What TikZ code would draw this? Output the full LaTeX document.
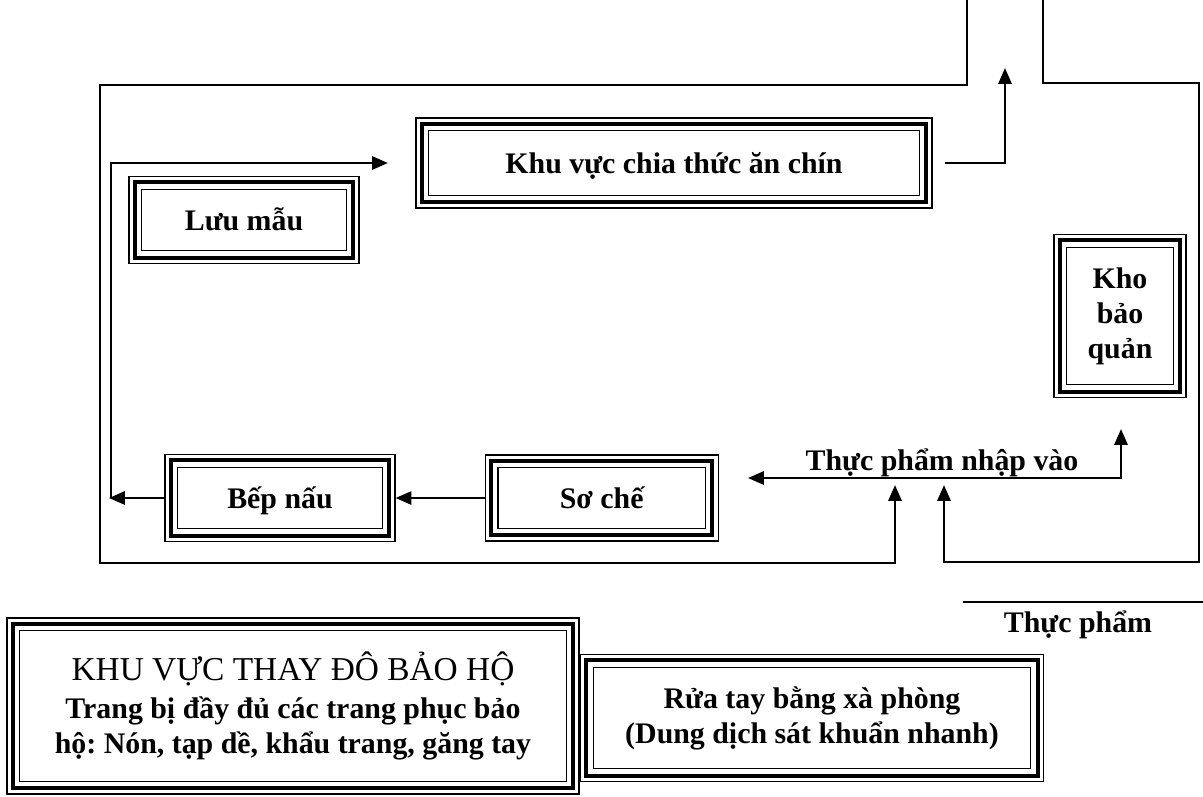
\documentclass[tikz,border=0pt]{standalone}
\usepackage{fontspec}
\setmainfont{Liberation Serif}
\frenchspacing
\usetikzlibrary{arrows.meta,positioning}

\tikzstyle{area} = [rectangle, draw=black, line width=0.7pt, text centered, align=center, inner sep=0pt, font=\bfseries\fontsize{17}{20}\selectfont]
\tikzstyle{tag} = [inner sep=0pt, font=\bfseries\fontsize{17}{20}\selectfont]
\tikzstyle{wall} = [line width=1.3pt]
\tikzstyle{arrow} = [line width=1.3pt,-{Triangle[length=9pt,width=7.5pt]}]
\tikzstyle{twoway} = [line width=1.3pt,{Triangle[length=9pt,width=7.5pt]}-{Triangle[length=9pt,width=7.5pt]}]

\begin{document}
\begin{tikzpicture}[x=0.02cm, y=-0.02cm, node distance=1.8cm]
	\useasboundingbox (0,0) rectangle (1203,796);
	% Place nodes
	\node [area, minimum width=10.32cm, minimum height=1.8cm] (khuvuc) at (674,163) {Khu vực chia thức ăn chín\vphantom{Ếg}};
	\node [area, minimum width=4.6cm, minimum height=1.74cm] (luumau) at (244,220) {Lưu mẫu\vphantom{Ếg}};
	\node [area, minimum width=2.64cm, minimum height=3.26cm] (kho) at (1120,316) {Kho\\bảo\\quản};
	\node [area, minimum width=4.6cm, minimum height=1.74cm] (bepnau) at (280,498) {Bếp nấu\vphantom{Ếg}};
	\node [area, minimum width=4.66cm, minimum height=1.72cm, right=1.78cm of bepnau] (soche) {Sơ chế\vphantom{Ếg}};
	\node [area, minimum width=11.44cm, minimum height=3.52cm] (thaydo) at (293,706) {{\mdseries\fontsize{19}{22}\selectfont KHU VỰC THAY ĐÔ BẢO HỘ}\\[1.5pt]Trang bị đầy đủ các trang phục bảo\\hộ: Nón, tạp dề, khẩu trang, găng tay};
	\node [area, minimum width=9.26cm, minimum height=2.54cm] (ruatay) at (812,718) {Rửa tay bằng xà phòng\\(Dung dịch sát khuẩn nhanh)};
	\node [tag, anchor=base] (nhapvao) at (942,470) {Thực phẩm nhập vào};
	\node [tag, anchor=base] (thucpham) at (1078,632) {Thực phẩm};
	% Inner frames
	\foreach \n in {khuvuc,luumau,kho,bepnau,soche,thaydo,ruatay} {
		\draw [line width=2.3pt] ([shift={(3.6pt,3.6pt)}]\n.south west) rectangle ([shift={(-3.6pt,-3.6pt)}]\n.north east);
		\draw [line width=0.8pt] ([shift={(7.6pt,7.6pt)}]\n.south west) rectangle ([shift={(-7.6pt,-7.6pt)}]\n.north east);
	}
	% Free ends
	\coordinate (topL) at (967,0);
	\coordinate (inL) at (895,485);
	\coordinate (topR) at (1043,0);
	\coordinate (inR) at (944,485);
	\coordinate (exit) at (1005,68);
	\coordinate (nhapL) at (748,478);
	\coordinate (nhapK) at (1121,429);
	\coordinate (bepL) at (109,498);
	\coordinate (tpL) at (963,602);
	\coordinate (tpR) at (1203,602);
	% Draw edges
	\draw [arrow] (topL) -- (967,85) -| (100,563) -| (inL);
	\draw [arrow] (topR) -- (1043,83) -| (1199,562) -| (inR);
	\draw [arrow] ([xshift=0.24cm]khuvuc.east) -| (exit);
	\draw [twoway] (nhapL) -| (nhapK);
	\draw [arrow] (soche.west) -- (bepnau.east);
	\draw [arrow] (bepnau.west) -- (bepL);
	\draw [arrow] (111,498) |- ([xshift=-0.55cm]khuvuc.west);
	\draw [wall] (tpL) -- (tpR);
\end{tikzpicture}
\end{document}
